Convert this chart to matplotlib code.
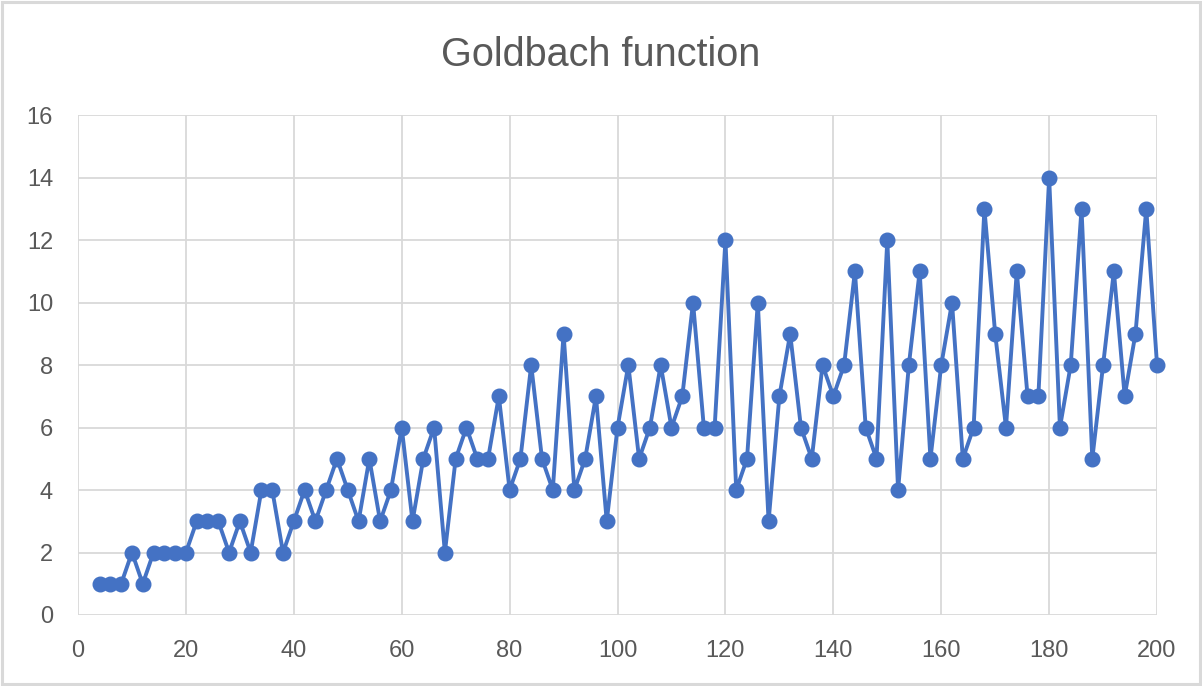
import matplotlib
matplotlib.use("Agg")
import matplotlib.pyplot as plt
from matplotlib.patches import Rectangle

plt.rcParams['font.family'] = ['Liberation Sans', 'DejaVu Sans']

# even numbers n and number of Goldbach partitions g(n)
n_vals = list(range(4, 201, 2))
g_vals = [1, 1, 1, 2, 1, 2, 2, 2, 2, 3, 3, 3, 2, 3, 2, 4, 4, 2, 3, 4,
          3, 4, 5, 4, 3, 5, 3, 4, 6, 3, 5, 6, 2, 5, 6, 5, 5, 7, 4, 5,
          8, 5, 4, 9, 4, 5, 7, 3, 6, 8, 5, 6, 8, 6, 7, 10, 6, 6, 12, 4,
          5, 10, 3, 7, 9, 6, 5, 8, 7, 8, 11, 6, 5, 12, 4, 8, 11, 5, 8, 10,
          5, 6, 13, 9, 6, 11, 7, 7, 14, 6, 8, 13, 5, 8, 11, 7, 9, 13, 8]
x_ticks = list(range(0, 201, 20))
y_ticks = list(range(0, 17, 2))

fig = plt.figure(figsize=(12.02, 6.86), dpi=100)
ax = fig.add_axes([0.0649, 0.1035, 0.8977, 0.7288])

ax.plot(n_vals, g_vals, color='#4472C4', lw=2.8, marker='o', ms=10.5,
        markerfacecolor='#4472C4', markeredgecolor='#4472C4', zorder=3,
        clip_on=False)

ax.set_xlim(0, 200)
ax.set_ylim(0, 16)
ax.set_xticks(x_ticks)
ax.set_yticks(y_ticks)
ax.grid(True, color='#D9D9D9', lw=1.3)
ax.set_axisbelow(True)
for s in ax.spines.values():
    s.set_visible(False)
ax.tick_params(length=0, labelsize=17, colors='#595959')
ax.tick_params(axis='x', pad=18)
ax.tick_params(axis='y', pad=18)

fig.text(0.5, 0.92, 'Goldbach function', ha='center', va='center',
         fontsize=28.5, color='#595959')

fig.patches.append(Rectangle((0.002, 0.003), 0.996, 0.994, transform=fig.transFigure,
                             fill=False, edgecolor='#D9D9D9', lw=2.2))

fig.savefig('out.png', dpi=100)
